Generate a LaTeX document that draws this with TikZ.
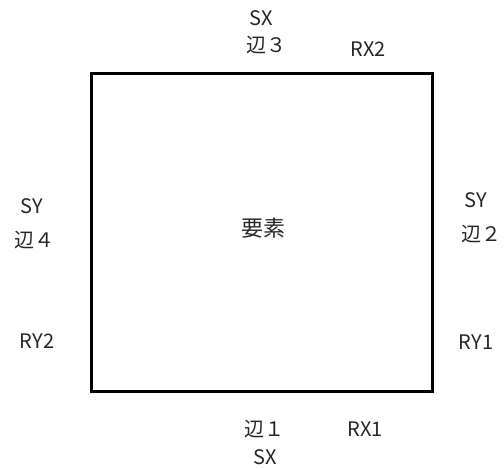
\documentclass[tikz,border=0pt]{standalone}
\usepackage{fontspec}
\newfontfamily\cjk{Noto Sans CJK JP}
\begin{document}
\begin{tikzpicture}[x=1pt,y=-1pt,
  lbl/.style={font=\cjk\fontsize{20}{22}\selectfont, inner sep=0pt, text=black!85},
  elembox/.style={draw, line width=3pt, minimum width=341pt, minimum height=318pt, inner sep=0pt, font=\cjk\fontsize{22}{24}\selectfont}]
\useasboundingbox (0,0) rectangle (504,469);
\node[elembox] (elem) at (262,232) {};
\node[lbl, font=\cjk\fontsize{22}{24}\selectfont] (yoso) at (263,228) {要素};
\node[lbl] (sx3) at (261,18) {SX};
\node[lbl] (e3) at (266,45) {辺３};
\node[lbl] (rx2) at (368,49) {RX2};
\node[lbl] (sy4) at (32,206) {SY};
\node[lbl] (e4) at (35,240) {辺４};
\node[lbl] (ry2) at (37,341) {RY2};
\node[lbl] (sy2) at (476,200) {SY};
\node[lbl] (e2) at (481,234) {辺２};
\node[lbl] (ry1) at (476,342) {RY1};
\node[lbl] (e1) at (264,429) {辺１};
\node[lbl] (rx1) at (365,429) {RX1};
\node[lbl] (sx1) at (265,457) {SX};
\end{tikzpicture}
\end{document}
